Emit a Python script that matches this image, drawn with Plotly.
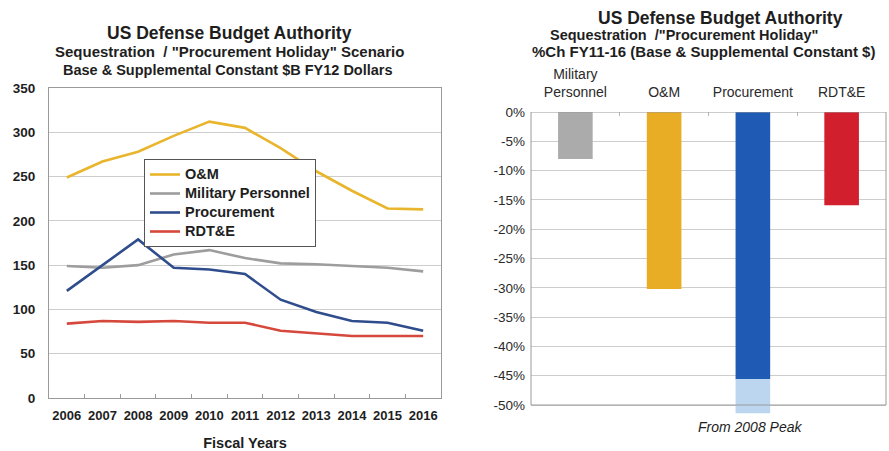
import plotly.graph_objects as go

W, H = 889, 451

# ---- Line chart data: $B, FY12 constant dollars ----
years = ["2006", "2007", "2008", "2009", "2010", "2011",
         "2012", "2013", "2014", "2015", "2016"]
om = [249, 267, 278, 296, 312, 305, 282, 256, 234, 214, 213]
mil_pers = [149, 147, 150, 162, 167, 158, 152, 151, 149, 147, 143]
procurement = [121, 150, 179, 147, 145, 140, 111, 97, 87, 85, 76]
rdte = [84, 87, 86, 87, 85, 85, 76, 73, 70, 70, 70]
y_ticks = [0, 50, 100, 150, 200, 250, 300, 350]

# ---- Bar chart data: % change FY11-16 ----
bar_cats = ["Military<br>Personnel", "O&M", "Procurement", "RDT&E"]
pct_change = [-8.0, -30.2, -45.6, -15.9]
pct_from_peak = [None, None, -51.4, None]
pct_ticks = [0, -5, -10, -15, -20, -25, -30, -35, -40, -45, -50]
pct_labels = ["0%", "-5%", "-10%", "-15%", "-20%", "-25%",
              "-30%", "-35%", "-40%", "-45%", "-50%"]

FONT = "Liberation Sans, Arial, sans-serif"
TXT = "#1e1e1e"
GRID = "#cdcdcd"
AXIS = "#9a9a9a"

C_OM = "#e9b52c"
C_MIL = "#9d9d9d"
C_PROC = "#2f4d8c"
C_RDTE = "#d6483c"


def px_x(p):
    return p / W


def px_y(p):
    return 1 - p / H


def legend_label(s):
    return f"<span style='font-size:14.5px'>{s}</span>"


fig = go.Figure()

series = [("O&M", om, C_OM), ("Military Personnel", mil_pers, C_MIL),
          ("Procurement", procurement, C_PROC), ("RDT&E", rdte, C_RDTE)]
for name, vals, col in series:
    fig.add_trace(go.Scatter(
        x=years, y=vals, name=legend_label(name), mode="lines",
        line=dict(color=col, width=2.6),
        xaxis="x", yaxis="y"))

bar_colors = ["#ababab", "#e8ad24", "#1f5ab4", "#d21f2e"]
fig.add_trace(go.Bar(
    x=bar_cats, y=pct_change, marker=dict(color=bar_colors, line=dict(width=0)),
    width=0.39, showlegend=False, xaxis="x2", yaxis="y2"))

# lighter extension: decline measured from the 2008 peak
peak_base = [c if p is not None else None for c, p in zip(pct_change, pct_from_peak)]
peak_extra = [p - c if p is not None else None for c, p in zip(pct_change, pct_from_peak)]
fig.add_trace(go.Bar(
    x=bar_cats, y=peak_extra, base=peak_base,
    marker=dict(color="#bcd6ef", line=dict(width=0)),
    width=0.39, showlegend=False, xaxis="x2", yaxis="y2"))

# bar panel: the axis runs a little past -50% so the peak extension can hang below the frame
y2_px_per_unit = (405 - 112) / 50.0
y2_bottom_px = 405 + 2 * y2_px_per_unit

fig.update_layout(
    width=W, height=H,
    margin=dict(l=0, r=0, t=0, b=0, autoexpand=False),
    paper_bgcolor="white", plot_bgcolor="white",
    font=dict(family=FONT, color=TXT),
    barmode="overlay",
    xaxis=dict(
        domain=[px_x(49), px_x(441)], anchor="y", type="category",
        range=[-0.5, len(years) - 0.5],
        automargin=False, tickangle=0,
        showline=True, linecolor=AXIS, linewidth=1, mirror=True,
        ticks="inside", tickson="boundaries", ticklen=4, tickcolor=AXIS,
        showgrid=False, ticklabelstandoff=5,
        tickfont=dict(size=13, family=FONT, weight="bold"),
        title=dict(text="<b>Fiscal Years</b>", font=dict(size=14.5), standoff=16),
    ),
    yaxis=dict(
        domain=[px_y(398), px_y(88)], anchor="x", range=[0, 350],
        automargin=False,
        tickvals=y_ticks, showgrid=True, gridcolor=GRID, gridwidth=1,
        showline=True, linecolor=AXIS, linewidth=1, mirror=True,
        zeroline=False, ticks="", ticklabelstandoff=10,
        tickfont=dict(size=13.5, family=FONT, weight="bold"),
    ),
    xaxis2=dict(
        domain=[px_x(531), px_x(886)], anchor="y2", type="category",
        automargin=False, tickangle=0,
        side="top", showline=False,
        ticks="inside", tickson="boundaries", ticklen=4, tickcolor="#b5b5b5",
        showgrid=False, tickfont=dict(size=14, color="#2a2a2a"),
        ticklabelstandoff=11,
    ),
    yaxis2=dict(
        domain=[px_y(y2_bottom_px), px_y(112)], anchor="x2",
        range=[pct_ticks[-1] - 2, pct_ticks[0]],
        automargin=False,
        tickvals=pct_ticks, ticktext=pct_labels,
        showgrid=True, gridcolor=GRID, gridwidth=1,
        showline=False, zeroline=False, ticks="", ticklabelstandoff=5,
        tickfont=dict(size=13.5, color="#2a2a2a"),
    ),
    legend=dict(
        x=px_x(144), y=px_y(159), xanchor="left", yanchor="top",
        bgcolor="white", bordercolor="#555555", borderwidth=1,
        font=dict(size=12.3, color=TXT, weight="bold"), tracegroupgap=0,
        itemwidth=30, entrywidth=168,
    ),
)

# frame of the bar panel, from 0% down to -50%
fig.add_shape(
    type="rect", xref="x2 domain", yref="y2",
    x0=0, x1=1, y0=pct_ticks[-1], y1=pct_ticks[0],
    line=dict(color=AXIS, width=1), fillcolor="rgba(0,0,0,0)", layer="above")

titles = [
    ("<b>US Defense Budget Authority</b>", 229, 33, 17.5),
    ("<b>Sequestration  / \"Procurement Holiday\" Scenario</b>", 229, 52, 15),
    ("<b>Base & Supplemental Constant $B FY12 Dollars</b>", 228, 70, 14.5),
    ("<b>US Defense Budget Authority</b>", 720, 18, 17.5),
    ("<b>Sequestration  /\"Procurement Holiday\"</b>", 684, 35, 14.5),
    ("<b>%Ch FY11-16 (Base & Supplemental Constant $)</b>", 703, 52, 15),
]
for text, cx, cy, size in titles:
    fig.add_annotation(
        text=text, x=px_x(cx), y=px_y(cy), xref="paper", yref="paper",
        xanchor="center", yanchor="middle", showarrow=False,
        font=dict(size=size, family=FONT, color=TXT))

fig.add_annotation(
    text="<i>From 2008 Peak</i>", x=px_x(750), y=px_y(427),
    xref="paper", yref="paper", xanchor="center", yanchor="middle",
    showarrow=False, font=dict(size=14, family=FONT, color=TXT))

fig.write_html("out.html")
